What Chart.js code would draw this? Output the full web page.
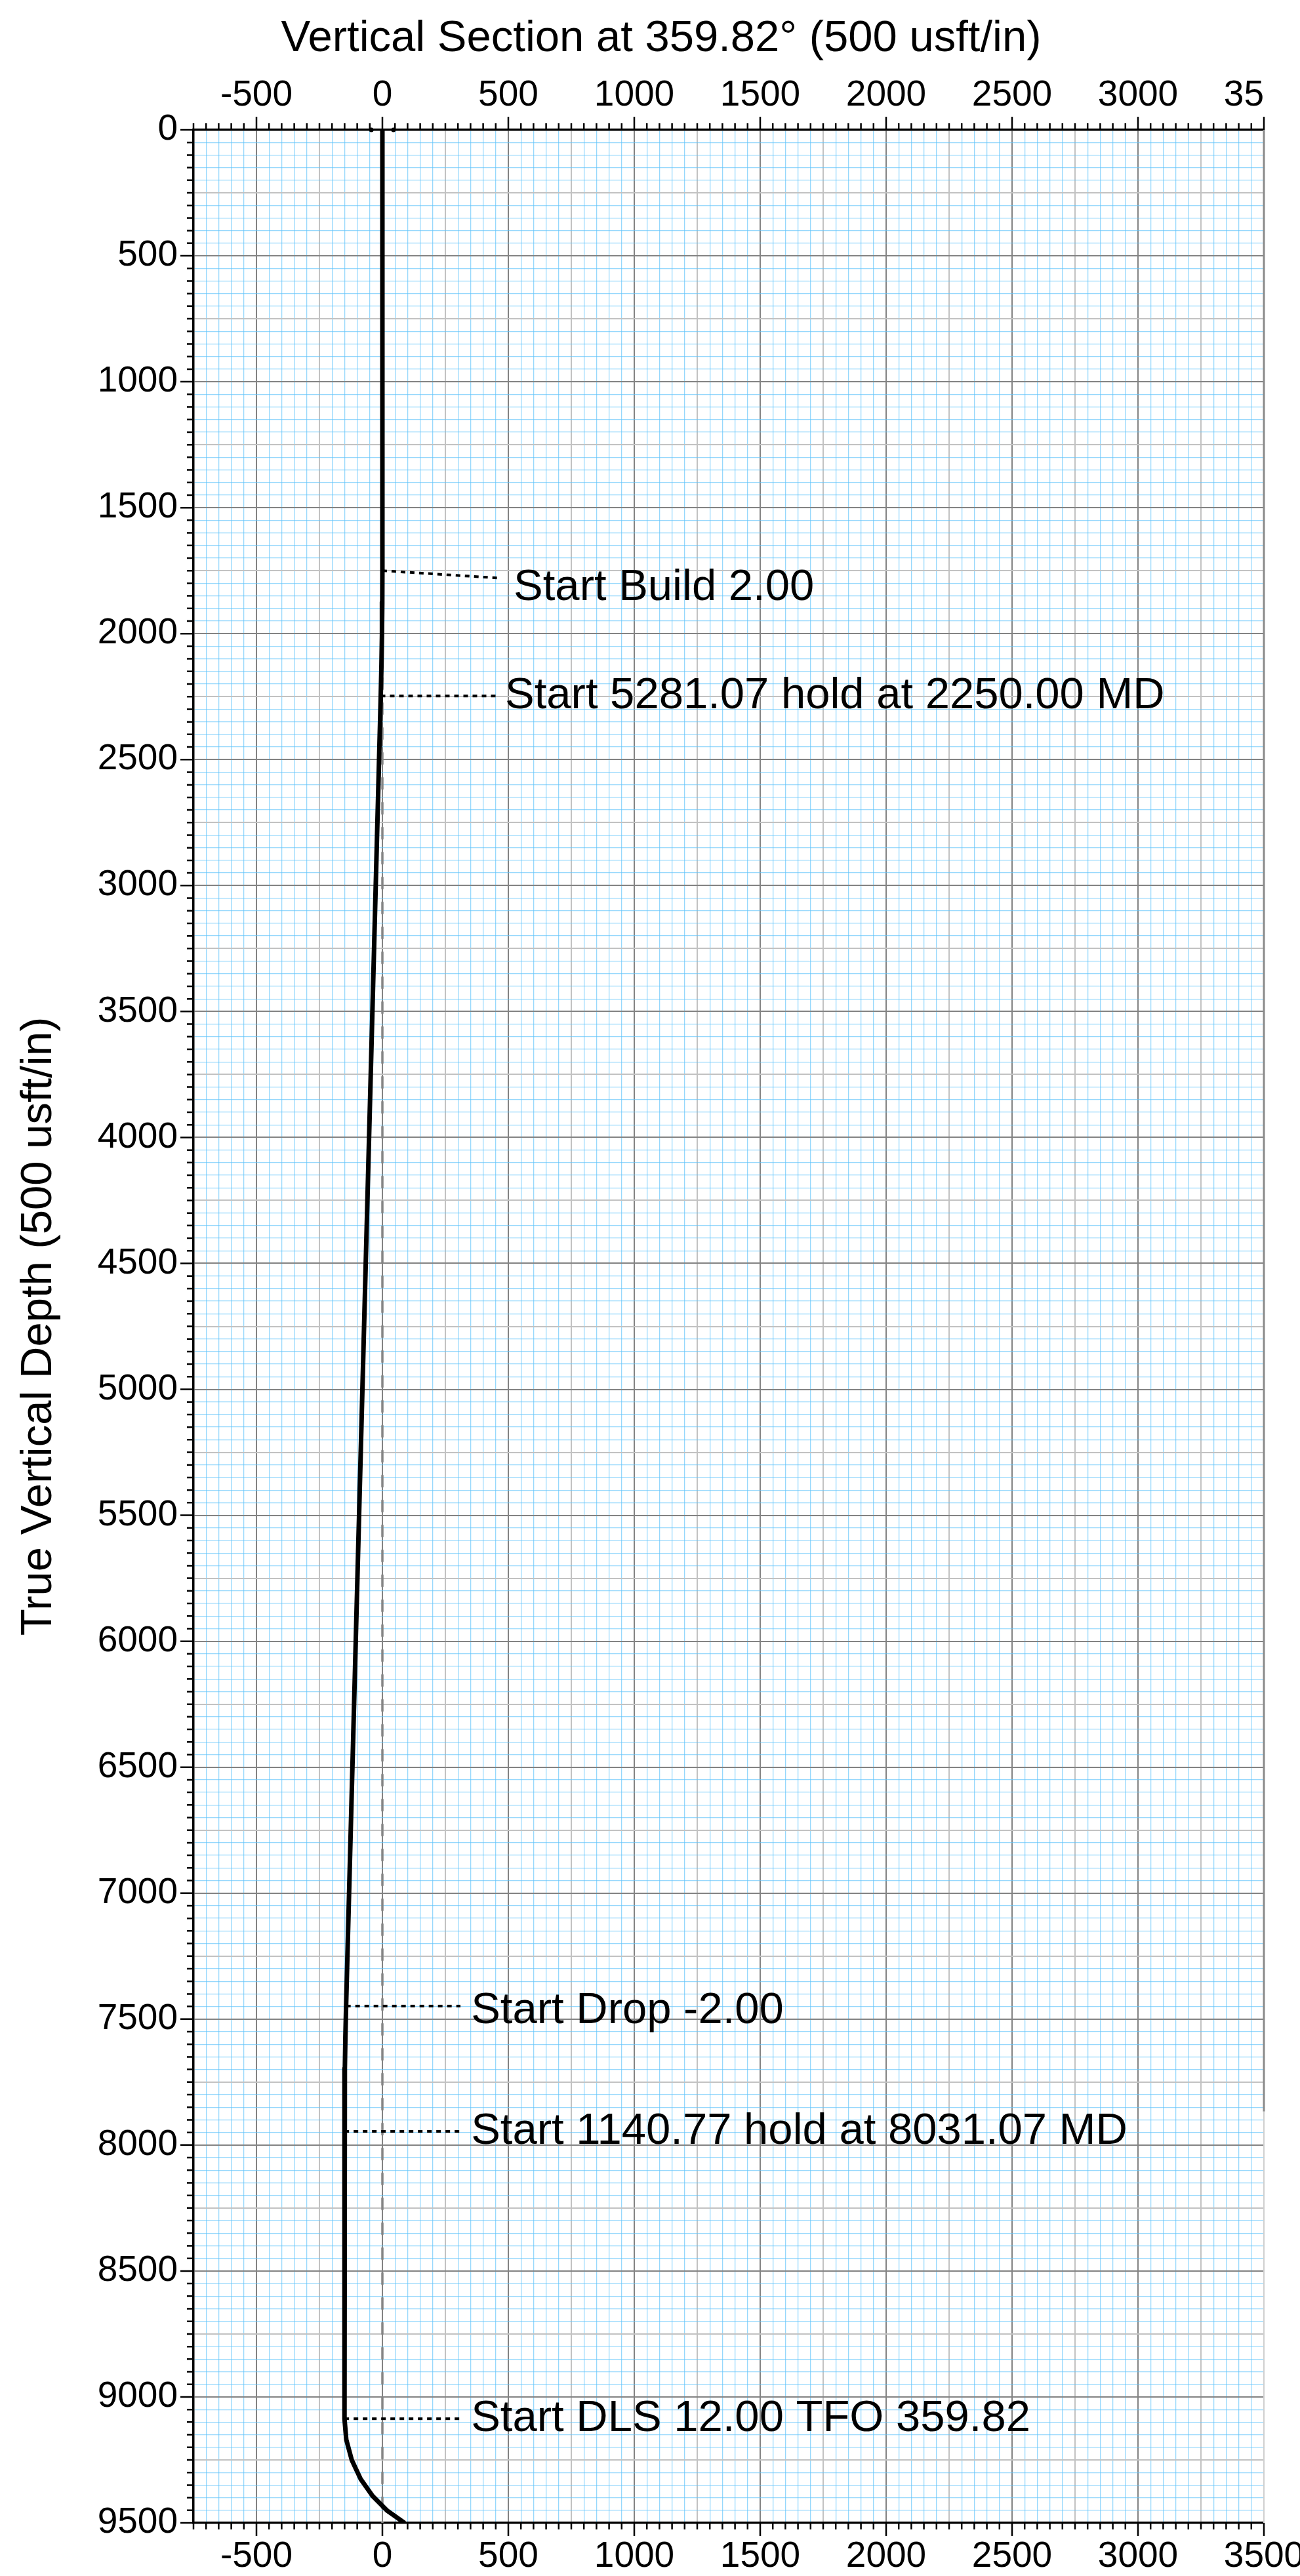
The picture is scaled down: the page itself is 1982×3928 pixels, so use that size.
<!DOCTYPE html>
<html>
<head>
<meta charset="utf-8">
<title>Vertical Section</title>
<script src="https://cdn.jsdelivr.net/npm/chart.js@4.4.1/dist/chart.umd.min.js"></script>
<style>
  html, body { margin: 0; padding: 0; background: #fff; }
</style>
</head>
<body>
<canvas id="section" width="1982" height="3928"></canvas>
<script>
// Wellpath stations projected on the 359.82° section (TVD / vertical section, usft)
const pathTvd = [0, 1750, 1874.96, 1999.69, 2123.94, 2247.47, 7448.31, 7571.84, 7696.09, 7820.81, 7945.78, 9086.55, 9169.46, 9249.85, 9325.28, 9393.45, 9452.31, 9500.04];
const pathVs  = [0, 0, -0.41, -1.64, -3.68, -6.53, -144.1, -146.9, -149.0, -150.2, -150.6, -150.6, -143.4, -121.8, -86.6, -38.9, 20.0, 88.1];

// Plan change points
const calloutText = ['Start Build 2.00', 'Start 5281.07 hold at 2250.00 MD', 'Start Drop -2.00', 'Start 1140.77 hold at 8031.07 MD', 'Start DLS 12.00 TFO 359.82'];
const calloutTvd  = [1750, 2247.47, 7448.31, 7945.78, 9086.55];
const calloutVs   = [0, -6.53, -144.1, -150.6, -150.6];

// Surface marks and the zero-section reference line
const surfaceVs = [-44, 44];
const refVs  = [0, 0];
const refTvd = [0, 9500];

// Axis ranges
const vsMin = -750, vsMax = 3500, gridStep = 50, labelStep = 500;
const tvdMin = 0, tvdMax = 9500;

// Where each callout's leader ends and its text sits (axis units)
const leaderEnd = [[458, 1779], [458, 2247.47], [310, 7448.31], [310, 7945.78], [310, 9086.55]];
const textAt    = [[521, 1818], [487, 2247], [352, 7467], [352, 7946], [352, 9087]];

const FONT = '"Liberation Sans", Arial, Helvetica, sans-serif';
Chart.defaults.font.family = FONT;
Chart.defaults.color = '#000';

function lineColor(v, edge) {
  if (v === edge) return 'rgba(0,0,0,0)';
  if (v % 500 === 0) return '#838383';
  if (v % 250 === 0) return '#c2c2c2';
  return 'rgba(95,195,250,0.65)';
}
function lineWidth(v) {
  return v % 250 === 0 ? 2 : 1.3;
}
function tickLabel(v) {
  return v % labelStep === 0 ? String(v) : '';
}
function noPad(s) {
  s.paddingLeft = 0; s.paddingRight = 0; s.paddingTop = 0; s.paddingBottom = 0;
}

// tick marks outside the frame, callout texts, right edge
const frameDecor = {
  id: 'frameDecor',
  afterDatasetsDraw(chart) {
    const {ctx, scales: {x, y}} = chart;
    ctx.save();
    ctx.font = '67px ' + FONT;
    ctx.fillStyle = '#000';
    ctx.textBaseline = 'middle';
    ctx.textAlign = 'left';
    calloutText.forEach((t, i) => {
      ctx.fillText(t, x.getPixelForValue(textAt[i][0]), y.getPixelForValue(textAt[i][1]));
    });
    ctx.restore();
  },
  afterDraw(chart) {
    const {ctx, chartArea: a, scales: {x, y}} = chart;
    ctx.save();
    ctx.strokeStyle = '#000';
    ctx.lineWidth = 2.5;
    ctx.beginPath();
    x.ticks.forEach(t => {
      const px = x.getPixelForValue(t.value);
      const len = t.value % labelStep === 0 ? 20 : 10;
      ctx.moveTo(px, a.top); ctx.lineTo(px, a.top - len);
      ctx.moveTo(px, a.bottom); ctx.lineTo(px, a.bottom + len);
    });
    y.ticks.forEach(t => {
      const py = y.getPixelForValue(t.value);
      const len = t.value % labelStep === 0 ? 20 : 10;
      ctx.moveTo(a.left, py); ctx.lineTo(a.left - len, py);
    });
    ctx.stroke();

    // right frame edge
    const split = y.getPixelForValue(7867);
    ctx.strokeStyle = '#8a8a8a';
    ctx.lineWidth = 3;
    ctx.beginPath();
    ctx.moveTo(a.right, a.top); ctx.lineTo(a.right, split);
    ctx.stroke();
    ctx.strokeStyle = '#cfcfcf';
    ctx.lineWidth = 2;
    ctx.beginPath();
    ctx.moveTo(a.right, split); ctx.lineTo(a.right, a.bottom);
    ctx.stroke();

    // top labels stop at the frame edge
    ctx.fillStyle = '#fff';
    ctx.fillRect(a.right + 1.5, 100, chart.width - a.right, a.top - 122);
    ctx.restore();
  }
};

const datasets = [
  {
    label: 'Wellpath',
    data: pathTvd.map((t, i) => ({x: pathVs[i], y: t})),
    showLine: true,
    borderColor: '#000',
    borderWidth: 7,
    borderJoinStyle: 'round',
    pointRadius: 0,
    tension: 0
  },
  {
    label: 'Surface',
    data: surfaceVs.map(v => ({x: v, y: tvdMin})),
    showLine: false,
    pointRadius: 3.5,
    pointBackgroundColor: '#000',
    pointBorderWidth: 0,
    clip: false
  }
];

calloutText.forEach((t, i) => {
  datasets.push({
    label: t,
    data: [{x: calloutVs[i], y: calloutTvd[i]}, {x: leaderEnd[i][0], y: leaderEnd[i][1]}],
    showLine: true,
    borderColor: '#000',
    borderWidth: 4,
    borderDash: [7, 7],
    pointRadius: 0
  });
});

datasets.push({
  label: 'Reference',
  data: refTvd.map((t, i) => ({x: refVs[i], y: t})),
  showLine: true,
  borderColor: '#858585',
  borderWidth: 3.5,
  borderDash: [17, 21],
  borderCapStyle: 'round',
  pointRadius: 0
});

new Chart(document.getElementById('section'), {
  type: 'scatter',
  data: {datasets},
  plugins: [frameDecor],
  options: {
    responsive: false,
    devicePixelRatio: 1,
    animation: false,
    layout: {padding: {left: 34, right: 0, top: 0, bottom: 0}},
    plugins: {
      legend: {display: false},
      tooltip: {enabled: false},
      title: {
        display: true,
        text: 'Vertical Section at 359.82° (500 usft/in)',
        color: '#000',
        font: {size: 67, weight: 'normal', lineHeight: 1.2},
        padding: {top: 19, bottom: 0}
      }
    },
    scales: {
      x: {
        type: 'linear',
        position: 'top',
        min: vsMin,
        max: vsMax,
        ticks: {stepSize: gridStep, autoSkip: false, maxRotation: 0, padding: 19,
                font: {size: 55}, color: '#000', callback: tickLabel},
        grid: {drawTicks: false, color: c => lineColor(c.tick.value, vsMax), lineWidth: c => lineWidth(c.tick.value)},
        border: {display: true, color: '#000', width: 3.5},
        afterFit: s => { s.height = 98.6; noPad(s); }
      },
      x2: {
        type: 'linear',
        position: 'bottom',
        min: vsMin,
        max: vsMax,
        ticks: {stepSize: gridStep, autoSkip: false, maxRotation: 0, padding: 19,
                font: {size: 55}, color: '#000', callback: tickLabel},
        grid: {display: false, drawTicks: false},
        border: {display: true, color: '#000', width: 3.5},
        afterFit: s => { s.height = 81; noPad(s); }
      },
      y: {
        type: 'linear',
        position: 'left',
        reverse: true,
        min: tvdMin,
        max: tvdMax,
        ticks: {stepSize: gridStep, autoSkip: false, padding: 24,
                font: {size: 55}, color: '#000', callback: tickLabel},
        grid: {drawTicks: false, color: c => lineColor(c.tick.value, tvdMax), lineWidth: c => lineWidth(c.tick.value)},
        border: {display: true, color: '#000', width: 3.5},
        title: {
          display: true,
          text: 'True Vertical Depth (500 usft/in)',
          color: '#000',
          font: {size: 67, lineHeight: 0.75},
          padding: 0
        },
        afterFit: s => { s.width = 261; noPad(s); }
      },
      y2: {
        type: 'linear',
        position: 'right',
        reverse: true,
        min: tvdMin,
        max: tvdMax,
        ticks: {display: false},
        grid: {display: false, drawTicks: false},
        border: {display: false},
        afterFit: s => { s.width = 55; noPad(s); }
      }
    }
  }
});
</script>
</body>
</html>
